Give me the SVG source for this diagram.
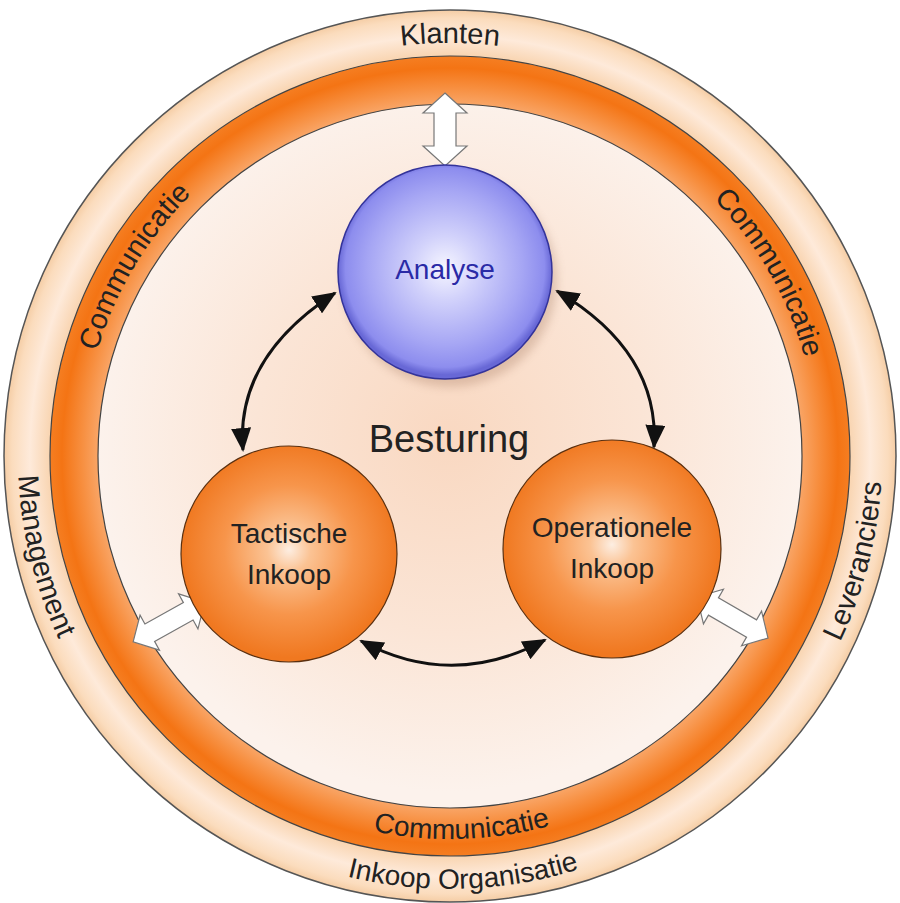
<svg xmlns="http://www.w3.org/2000/svg" xmlns:xlink="http://www.w3.org/1999/xlink" width="900" height="903" viewBox="0 0 900 903">
<style>
  .ring-text { font-family: "Liberation Sans", Arial, sans-serif; font-size: 29px; fill: #222; }
  .ring-small { font-size: 28px; }
  .node-text { font-family: "Liberation Sans", Arial, sans-serif; font-size: 28px; fill: #222; text-anchor: middle; }
  .conn { fill: none; stroke: #111; stroke-width: 3; }
  .block { fill: #ffffff; stroke: #777; stroke-width: 1.2; stroke-linejoin: miter; }
</style>
<defs>
  <radialGradient id="outerBand" gradientUnits="userSpaceOnUse" cx="450" cy="456" r="447">
    <stop offset="0.89" stop-color="#f8d2ac"/>
    <stop offset="0.94" stop-color="#feeada"/>
    <stop offset="0.98" stop-color="#fbdcbd"/>
    <stop offset="1" stop-color="#f4cba2"/>
  </radialGradient>
  <radialGradient id="orangeRing" gradientUnits="userSpaceOnUse" cx="450" cy="456" r="400">
    <stop offset="0.88" stop-color="#f9a566"/>
    <stop offset="0.92" stop-color="#f78f40"/>
    <stop offset="0.97" stop-color="#f47414"/>
    <stop offset="1" stop-color="#f57e22"/>
  </radialGradient>
  <radialGradient id="innerDisc" gradientUnits="userSpaceOnUse" cx="450" cy="440" r="352">
    <stop offset="0" stop-color="#f9d8c1"/>
    <stop offset="0.55" stop-color="#fbe5d6"/>
    <stop offset="1" stop-color="#fcf2ec"/>
  </radialGradient>
  <radialGradient id="orangeSphere" cx="0.5" cy="0.48" r="0.5">
    <stop offset="0" stop-color="#fdeee2"/>
    <stop offset="0.2" stop-color="#fbc394"/>
    <stop offset="0.6" stop-color="#f7954b"/>
    <stop offset="1" stop-color="#f07820"/>
  </radialGradient>
  <radialGradient id="blueSphere" cx="0.5" cy="0.48" r="0.5">
    <stop offset="0" stop-color="#f6f6ff"/>
    <stop offset="0.3" stop-color="#d2d2fb"/>
    <stop offset="0.72" stop-color="#a6a6f4"/>
    <stop offset="0.93" stop-color="#8d8dee"/>
    <stop offset="1" stop-color="#6868d6"/>
  </radialGradient>
  <filter id="shadow" x="-20%" y="-20%" width="140%" height="140%">
    <feGaussianBlur stdDeviation="5"/>
  </filter>
  <marker id="head" markerUnits="userSpaceOnUse" markerWidth="24" markerHeight="20" viewBox="0 0 24 20" refX="22" refY="10" orient="auto-start-reverse">
    <path d="M0,0 L24,10 L0,20 z" fill="#111"/>
  </marker>
  <path id="topArcK" d="M 37 456 A 413 413 0 0 1 863 456"/>
  <path id="topArcC" d="M 82 456 A 368 368 0 0 1 818 456"/>
  <path id="botArcC" d="M 67 456 A 383 383 0 0 0 833 456"/>
  <path id="botArcI" d="M 17 456 A 433 433 0 0 0 883 456"/>
  <path id="leftArc" d="M 144.5 150.5 A 432 432 0 0 0 144.5 761.5"/>
  <path id="rightArc" d="M 755.5 761.5 A 432 432 0 0 0 755.5 150.5"/>
  <polygon id="dblArrow" points="-41,0 -22,-20 -22,-10 22,-10 22,-20 41,0 22,20 22,10 -22,10 -22,20"/>
</defs>

<rect width="900" height="903" fill="#ffffff"/>

<g id="ring-outer">
  <circle cx="450" cy="456" r="446" fill="url(#outerBand)" stroke="#555" stroke-width="1.5"/>
  <text class="ring-text"><textPath xlink:href="#topArcK" href="#topArcK" startOffset="50%" text-anchor="middle">Klanten</textPath></text>
  <text class="ring-text ring-small"><textPath xlink:href="#botArcI" href="#botArcI" startOffset="51%" text-anchor="middle">Inkoop Organisatie</textPath></text>
  <text class="ring-text"><textPath xlink:href="#leftArc" href="#leftArc" startOffset="65.4%" text-anchor="middle">Management</textPath></text>
  <text class="ring-text"><textPath xlink:href="#rightArc" href="#rightArc" startOffset="33.9%" text-anchor="middle">Leveranciers</textPath></text>
</g>

<g id="ring-communicatie">
  <circle cx="450" cy="456" r="400" fill="url(#orangeRing)" stroke="#444" stroke-width="1.2"/>
  <text class="ring-text"><textPath xlink:href="#topArcC" href="#topArcC" startOffset="17.2%" text-anchor="middle">Communicatie</textPath></text>
  <text class="ring-text"><textPath xlink:href="#topArcC" href="#topArcC" startOffset="83.4%" text-anchor="middle">Communicatie</textPath></text>
  <text class="ring-text ring-small"><textPath xlink:href="#botArcC" href="#botArcC" startOffset="51%" text-anchor="middle">Communicatie</textPath></text>
</g>

<g id="besturing">
  <circle cx="450" cy="456" r="352" fill="url(#innerDisc)" stroke="#444" stroke-width="1.2"/>
  <text x="449" y="452" font-family="Liberation Sans, Arial, sans-serif" font-size="38" fill="#222" text-anchor="middle">Besturing</text>
</g>

<g id="connectors">
  <path class="conn" d="M 335 293 Q 235 358 243 450" marker-start="url(#head)" marker-end="url(#head)"/>
  <path class="conn" d="M 557 291 Q 660 352 654 447" marker-start="url(#head)" marker-end="url(#head)"/>
  <path class="conn" d="M 361 641 Q 452 690 545 640" marker-start="url(#head)" marker-end="url(#head)"/>
  <polygon class="block" points="445,93 467,113 456,113 456,146 467,146 445,166 423,146 434,146 434,113 423,113"/>
  <use href="#dblArrow" xlink:href="#dblArrow" class="block" transform="translate(169 622) rotate(-29)"/>
  <use href="#dblArrow" xlink:href="#dblArrow" class="block" transform="translate(732.5 617.5) rotate(30)"/>
</g>

<g id="analyse">
  <circle cx="450" cy="280" r="107" fill="#8a5a40" opacity="0.25" filter="url(#shadow)"/>
  <circle cx="445" cy="272" r="107" fill="url(#blueSphere)" stroke="#33339a" stroke-width="1.5"/>
  <text x="445" y="279" class="node-text" style="fill:#2a2aa6">Analyse</text>
</g>

<g id="tactische-inkoop">
  <circle cx="289" cy="554" r="108" fill="url(#orangeSphere)" stroke="#5a3010" stroke-width="1.2"/>
  <text x="289" y="543" class="node-text">Tactische</text>
  <text x="289" y="584" class="node-text">Inkoop</text>
</g>

<g id="operationele-inkoop">
  <circle cx="612" cy="549" r="109" fill="url(#orangeSphere)" stroke="#5a3010" stroke-width="1.2"/>
  <text x="612" y="537" class="node-text">Operationele</text>
  <text x="612" y="578" class="node-text">Inkoop</text>
</g>
</svg>
